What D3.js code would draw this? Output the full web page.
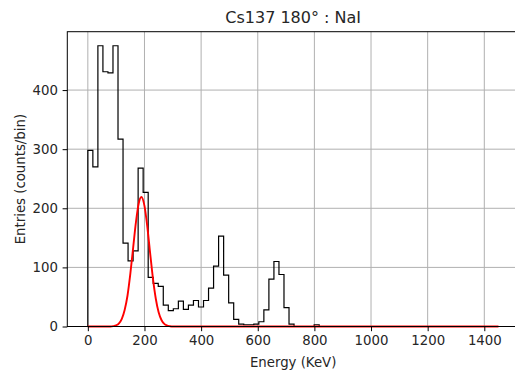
<!DOCTYPE html>
<html>
<head>
<meta charset="utf-8">
<script src="https://cdn.jsdelivr.net/npm/d3@7"></script>
<style>
  html, body { margin: 0; padding: 0; background: #fff; }
  svg { display: block; }
  text { font-family: "DejaVu Sans", sans-serif; fill: #262626; }
</style>
</head>
<body>
<svg id="chart" width="515" height="372"></svg>
<script>
// ---- data ----
const titleText = "Cs137 180° : NaI";
const xLabel = "Energy (KeV)";
const yLabel = "Entries (counts/bin)";
const binWidth = 17.76;   // keV per bin
const binStart = 0;       // keV
const counts = [
  298, 270, 475, 431, 429, 475, 317, 141, 111, 128,
  268, 227, 83, 73, 68, 36, 27, 30, 43, 29,
  36, 44, 33, 44, 65, 102, 153, 87, 40, 12,
  4, 3, 3, 4, 8, 28, 80, 110, 88, 32,
  4, 0, 0, 0, 0, 3, 0
];
// fitted gaussian curve: [energy keV, counts]
const fitE = [0, 80, 90, 100, 110, 120, 130, 140, 150, 160, 170, 180, 189, 200, 210, 220, 230, 240, 250, 260, 270, 280, 290, 300, 1450];
const fitY = [0, 0, 0.6, 2, 5.4, 13, 28, 52, 89, 133, 177, 209, 219, 204, 169, 124, 81, 47, 24, 11, 4.4, 1.6, 0.5, 0, 0];
const xTicks = [0, 200, 400, 600, 800, 1000, 1200, 1400];
const yTicks = [0, 100, 200, 300, 400];

// ---- layout ----
const svg = d3.select("#chart");
const mLeft = 67.3, mRight = 519, mTop = 31.7, mBottom = 326.5;
const tickFont = 13.3, labelFont = 13.3, titleFont = 16;

const xData = [0, 1450];
const xPad = (xData[1] - xData[0]) * 0.05;
const x = d3.scaleLinear().domain([xData[0] - xPad, xData[1] + xPad]).range([mLeft, mRight]);
const yMax = d3.max(counts) * 1.05;
const y = d3.scaleLinear().domain([0, yMax]).range([mBottom, mTop]);

// grid
const grid = svg.append("g");
grid.selectAll(".gx").data(xTicks).enter().append("line")
  .attr("x1", d => x(d)).attr("x2", d => x(d))
  .attr("y1", mTop).attr("y2", mBottom)
  .attr("stroke", "#b0b0b0").attr("stroke-width", 1);
grid.selectAll(".gy").data(yTicks).enter().append("line")
  .attr("x1", mLeft).attr("x2", mRight)
  .attr("y1", d => y(d)).attr("y2", d => y(d))
  .attr("stroke", "#b0b0b0").attr("stroke-width", 1);

// histogram step outline
const pts = [[binStart, 0]];
counts.forEach((c, i) => {
  const e0 = binStart + i * binWidth, e1 = e0 + binWidth;
  pts.push([e0, c]); pts.push([e1, c]);
});
pts.push([binStart + counts.length * binWidth, 0]);
svg.append("path")
  .attr("d", d3.line().x(d => x(d[0])).y(d => y(d[1]))(pts))
  .attr("fill", "none").attr("stroke", "#000").attr("stroke-width", 1.2)
  .attr("stroke-linejoin", "miter");

// fit curve
const fitPts = fitE.map((e, i) => [e, fitY[i]]);
svg.append("path")
  .attr("d", d3.line().x(d => x(d[0])).y(d => y(d[1])).curve(d3.curveMonotoneX)(fitPts))
  .attr("fill", "none").attr("stroke", "#ff0000").attr("stroke-width", 1.9);

// axes
const xAxis = d3.axisBottom(x).tickValues(xTicks).tickSize(4.7).tickPadding(4.7).tickFormat(d3.format("d"));
const yAxis = d3.axisLeft(y).tickValues(yTicks).tickSize(4.7).tickPadding(4.7).tickFormat(d3.format("d"));
const gx = svg.append("g").attr("transform", `translate(0,${mBottom})`).call(xAxis);
const gy = svg.append("g").attr("transform", `translate(${mLeft},0)`).call(yAxis);
[gx, gy].forEach(g => {
  g.select(".domain").remove();
  g.selectAll(".tick line").attr("stroke", "#000").attr("stroke-width", 1);
  g.selectAll(".tick text").attr("font-family", "DejaVu Sans").attr("font-size", tickFont).attr("fill", "#262626");
});

// spines
svg.append("rect").attr("x", mLeft).attr("y", mTop)
  .attr("width", mRight - mLeft).attr("height", mBottom - mTop)
  .attr("fill", "none").attr("stroke", "#000").attr("stroke-width", 1);

// title and labels
svg.append("text").attr("x", (mLeft + mRight) / 2).attr("y", 22.5)
  .attr("text-anchor", "middle").attr("font-size", titleFont).text(titleText);
svg.append("text").attr("x", (mLeft + mRight) / 2).attr("y", 366.5)
  .attr("text-anchor", "middle").attr("font-size", labelFont).text(xLabel);
svg.append("text").attr("transform", `translate(24.5,${(mTop + mBottom) / 2}) rotate(-90)`)
  .attr("text-anchor", "middle").attr("font-size", labelFont).text(yLabel);
</script>
</body>
</html>
